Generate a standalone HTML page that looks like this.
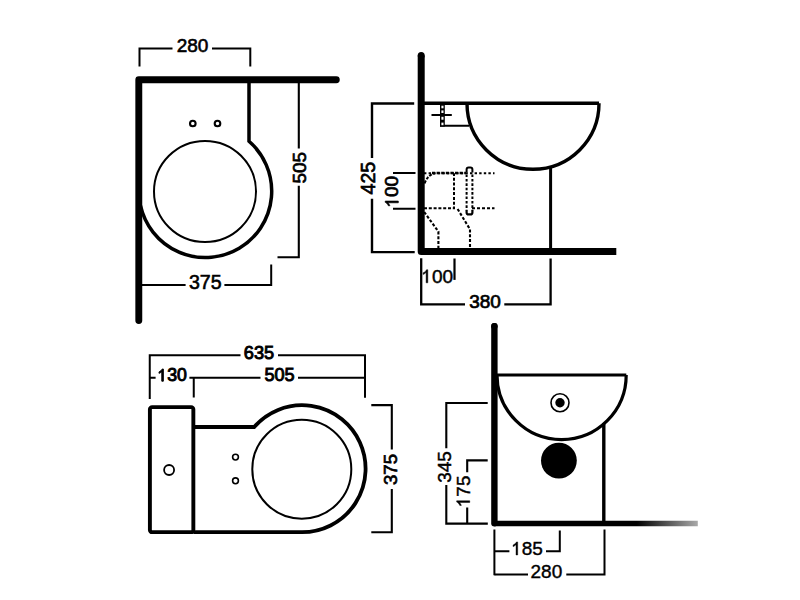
<!DOCTYPE html>
<html><head><meta charset="utf-8">
<style>
html,body{margin:0;padding:0;background:#fff;width:800px;height:600px;overflow:hidden}
svg{display:block}
text{font-family:"Liberation Sans",sans-serif;fill:#000}
</style></head>
<body>
<svg width="800" height="600" viewBox="0 0 800 600">
<rect width="800" height="600" fill="#fff"/>
<g fill="none" stroke="#000" stroke-linecap="butt" stroke-linejoin="miter">

<!-- ===== TOP-LEFT: plan view ===== -->
<path d="M138.8 320.6 L138.8 79.8 L336.3 79.8" stroke-width="6.9" stroke-linecap="round" stroke-linejoin="round"/>
<path d="M139.5 66.5 V48.5 H172.5 M212 48.5 H250.3 V66.5" stroke-width="2"/>
<path d="M249 80 V141.21 A66.4 66.4 0 1 1 140.5 205.69" stroke-width="3.5"/>
<ellipse cx="205" cy="191.5" rx="51" ry="50.6" stroke-width="2"/>
<circle cx="192.8" cy="123.5" r="2.8" stroke-width="2.1"/>
<circle cx="217.5" cy="123.5" r="2.8" stroke-width="2.1"/>
<path d="M298.8 83 V148.6 M298.8 185.8 V257.2 H277.5" stroke-width="2.1"/>
<path d="M142 285 H185.6 M224.4 285 H271.2 V264.4" stroke-width="2"/>

<!-- ===== TOP-RIGHT: side view ===== -->
<path d="M421.2 55.6 V251.6 H616.3" stroke-width="7" stroke-linecap="butt" stroke-linejoin="round"/>
<circle cx="421.2" cy="55.6" r="3.5" fill="#000" stroke="none"/>
<path d="M421 103.3 H599" stroke-width="3.6"/>
<path d="M467 103.3 A66 66 0 0 0 599 103.3" stroke-width="3.4"/>
<path d="M550.6 168 V251" stroke-width="3"/>
<path d="M414.2 103.5 H372 V158.1 M372 198.7 V252.1 H414.7" stroke-width="2.4"/>
<path d="M393 173 H415.5 M393 208.7 H415.5" stroke-width="2"/>
<!-- fixing -->
<rect x="440" y="104" width="4.8" height="22.6" fill="#000" stroke="none"/>
<path d="M431.5 115.1 H451.8 M440 125.8 H469" stroke-width="2"/>
<g fill="#fff" stroke="none">
<rect x="441.4" y="105.7" width="2.1" height="2.6"/>
<rect x="441.4" y="110.4" width="2.1" height="2.6"/>
<rect x="441.4" y="116.8" width="2.1" height="2.9"/>
<rect x="441.4" y="122.6" width="2.1" height="2.6"/>
</g>
<!-- dashed pipes -->
<g stroke-width="2" stroke-dasharray="3 1.8">
<path d="M424 173.2 H494.5" stroke-dasharray="2.4 2.2"/>
<path d="M432 173 H466" stroke-width="2.4" stroke-dasharray="3.2 1.4"/>
<path d="M424.6 183.5 Q427.5 175 435 173.2" stroke-dasharray="3 1.4"/>
<path d="M424 208.3 H454 V173.2"/>
<path d="M472 208.3 H494.5" stroke-dasharray="3 2"/>
<path d="M466.6 172.5 V169.6 Q466.6 167.6 468.6 167.6 H470.4 Q472.4 167.6 472.4 169.6 V172.5" stroke-dasharray="none"/>
<path d="M466.6 174.5 V211 M472.4 174.5 V211" stroke-dasharray="2.6 1.8"/>
<path d="M466.6 210.5 V212.4 Q466.6 214.4 468.6 214.4 H470.4 Q472.4 214.4 472.4 212.4 V210.5" stroke-width="2.2" stroke-dasharray="none"/>
<path d="M424.2 212 L438.4 231.6 V249" stroke-width="2.1" stroke-dasharray="3 1.8"/>
<path d="M457.6 209 L470 229.3 V247" stroke-width="2.1" stroke-dasharray="3 1.8"/>
</g>
<path d="M421.2 258.3 V304.3 H465 M504.3 304.3 H550.6 V258.5" stroke-width="2.3"/>
<path d="M454.5 258.5 V279.9" stroke-width="2.2"/>

<!-- ===== BOTTOM-LEFT: top view ===== -->
<path d="M149.75 399 V355.25 H240.5 M278 355.25 H365 V397.8" stroke-width="2"/>
<path d="M149.75 377.7 H155.6 M189.4 377.7 H260.5 M193.75 377.7 V397.5 M298 377.7 H365" stroke-width="2"/>
<rect x="149.9" y="407.15" width="43.45" height="125" rx="2.2" stroke-width="3.9"/>
<path d="M193.4 427 H254.2 A63.5 63.5 0 1 1 302 532.2 H193.4" stroke-width="3.8"/>
<circle cx="301.8" cy="469.2" r="49.5" stroke-width="2"/>
<circle cx="169.1" cy="470" r="5" stroke-width="1.8"/>
<circle cx="235.5" cy="457.1" r="2.9" stroke-width="1.6"/>
<circle cx="235.5" cy="480.8" r="2.9" stroke-width="1.6"/>
<path d="M371.3 405.1 H391.8 V449.5 M391.8 489 V532.2 H371.3" stroke-width="2.1"/>

<!-- ===== BOTTOM-RIGHT: front view ===== -->
<path d="M494.4 326.2 V523.2" stroke-width="6.4" stroke-linecap="round"/>
<circle cx="494.4" cy="326.2" r="3.2" fill="#000" stroke="none"/>
<path d="M494.4 523.5 H697.8" stroke-width="5.6" stroke="url(#fade)"/>
<path d="M494 375 H626.3" stroke-width="3.2"/>
<path d="M497 375 A64.6 64.6 0 0 0 626.2 375" stroke-width="3.2"/>
<circle cx="560" cy="402.7" r="9" stroke-width="1.6"/>
<circle cx="560" cy="402.7" r="4.7" fill="#000" stroke="none"/>
<path d="M603.8 423 V523" stroke-width="3.4"/>
<circle cx="558.9" cy="460.6" r="17.9" fill="#000" stroke="none"/>
<path d="M487.7 403 H446.3 V448.25 M446.3 485 V523.6 H487.8" stroke-width="2.1"/>
<path d="M487.7 460.4 H467.2 V472.25 M467.2 507.5 V523.6" stroke-width="2.1"/>
<path d="M494.4 529.4 V575.3 M494.4 551.2 H509.4 M546 551.2 H559.8 V530.6" stroke-width="2"/>
<path d="M494.4 574.5 H528 M566.3 574.5 H604.5 V529.4" stroke-width="2"/>
</g>
<defs>
<linearGradient id="fade" gradientUnits="userSpaceOnUse" x1="494" y1="0" x2="698" y2="0">
<stop offset="0" stop-color="#000"/>
<stop offset="0.7" stop-color="#000"/>
<stop offset="1" stop-color="#aaa"/>
</linearGradient>
</defs>

<!-- ===== TEXT ===== -->
<g text-anchor="middle" stroke="#000">
<g><text x="192.5" y="51.7" font-size="19" stroke-width="0.6">280</text></g>
<g><text x="205.3" y="288.75" font-size="19.6" stroke-width="0.6">375</text></g>
<g transform="translate(306 167.7) rotate(-90)"><text x="0" y="0" font-size="19" stroke-width="0.7">505</text></g>
<g transform="translate(375 178.2) rotate(-90)"><text x="0" y="0" font-size="19.5" stroke-width="0.7">425</text></g>
<g transform="translate(398.3 191.7) rotate(-90)"><text x="0" y="0" font-size="19" stroke-width="0.7">&#x2007;00</text><path transform="translate(-15.850 0) scale(0.009277 -0.009277)" d="M696 0H515V1100Q440 1035 340 975Q262 929 197 905V1075Q330 1135 430 1230Q520 1315 560 1409H696Z" stroke-width="75.5"/></g>
<g><text x="437.2" y="282.8" font-size="19" stroke-width="0.45">&#x2007;00</text><path transform="translate(421.350 282.8) scale(0.009277 -0.009277)" d="M696 0H515V1100Q440 1035 340 975Q262 929 197 905V1075Q330 1135 430 1230Q520 1315 560 1409H696Z" stroke-width="48.5"/></g>
<g><text x="485.1" y="307.5" font-size="19" stroke-width="0.7">380</text></g>
<g><text x="259" y="359.2" font-size="18.2" stroke-width="0.95">635</text></g>
<g><text x="172.1" y="381.2" font-size="17.7" stroke-width="0.95">&#x2007;30</text><path transform="translate(157.334 381.2) scale(0.008643 -0.008643)" d="M696 0H515V1100Q440 1035 340 975Q262 929 197 905V1075Q330 1135 430 1230Q520 1315 560 1409H696Z" stroke-width="109.9"/></g>
<g><text x="279.6" y="381.1" font-size="18.1" stroke-width="0.95">505</text></g>
<g transform="translate(396.5 469.5) rotate(-90)"><text x="0" y="0" font-size="18.6" stroke-width="0.7">375</text></g>
<g transform="translate(451 467) rotate(-90)"><text x="0" y="0" font-size="19" stroke-width="0.45">345</text></g>
<g transform="translate(469.75 491.4) rotate(-90)"><text x="0" y="0" font-size="19" stroke-width="0.45">&#x2007;75</text><path transform="translate(-15.850 0) scale(0.009277 -0.009277)" d="M696 0H515V1100Q440 1035 340 975Q262 929 197 905V1075Q330 1135 430 1230Q520 1315 560 1409H696Z" stroke-width="48.5"/></g>
<g><text x="527.1" y="555" font-size="19" stroke-width="0.4">&#x2007;85</text><path transform="translate(511.250 555) scale(0.009277 -0.009277)" d="M696 0H515V1100Q440 1035 340 975Q262 929 197 905V1075Q330 1135 430 1230Q520 1315 560 1409H696Z" stroke-width="43.1"/></g>
<g><text x="546.4" y="578.3" font-size="19" stroke-width="0.4">280</text></g>
</g>
</svg>
</body></html>
